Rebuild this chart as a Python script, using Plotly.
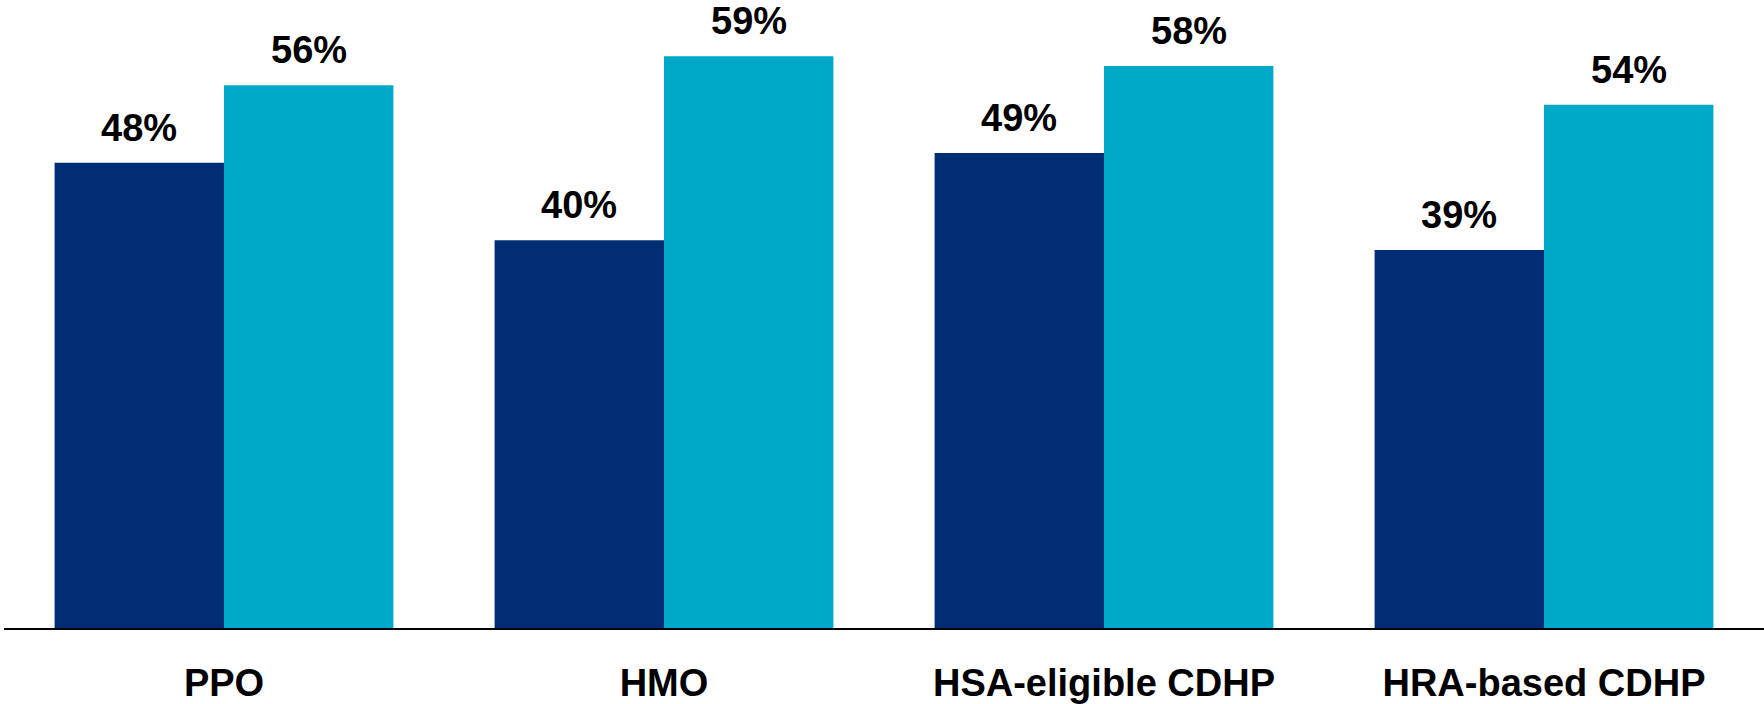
import plotly.graph_objects as go

categories = ["PPO", "HMO", "HSA-eligible CDHP", "HRA-based CDHP"]
series_a = [48, 40, 49, 39]
series_b = [56, 59, 58, 54]
label_a = ["48%", "40%", "49%", "39%"]
label_b = ["56%", "59%", "58%", "54%"]

NAVY = "#002D74"
CYAN = "#00A9C8"
FONT = "Liberation Sans, Arial, sans-serif"

fig = go.Figure()
fig.add_trace(go.Bar(x=categories, y=series_a, marker=dict(color=NAVY, line=dict(width=0)),
                     showlegend=False, offsetgroup="a"))
fig.add_trace(go.Bar(x=categories, y=series_b, marker=dict(color=CYAN, line=dict(width=0)),
                     showlegend=False, offsetgroup="b"))

# value labels via annotations (shifted to match reference spacing)
for i, c in enumerate(categories):
    fig.add_annotation(x=c, y=series_a[i], text="<b>%s</b>" % label_a[i], xshift=-85,
                       yanchor="bottom", yshift=12, showarrow=False,
                       font=dict(family=FONT, size=38, color="black"))
    fig.add_annotation(x=c, y=series_b[i], text="<b>%s</b>" % label_b[i], xshift=85,
                       yanchor="bottom", yshift=12, showarrow=False,
                       font=dict(family=FONT, size=38, color="black"))

fig.update_layout(
    width=1764, height=704,
    margin=dict(l=4, r=0, t=0, b=76, autoexpand=False),
    paper_bgcolor="white", plot_bgcolor="white",
    barmode="group", bargap=0.23, bargroupgap=0,
    font=dict(family=FONT, size=38, color="black"),
)
fig.update_xaxes(
    showline=True, linecolor="black", linewidth=2,
    showgrid=False, ticks="", ticklabelstandoff=20, automargin=False,
    tickfont=dict(family=FONT, size=38, color="black", weight="bold"),
    range=[-0.5, 3.5],
)
fig.update_yaxes(range=[0, 64.8], visible=False, showgrid=False, zeroline=False, automargin=False)

fig.write_html("out.html")
